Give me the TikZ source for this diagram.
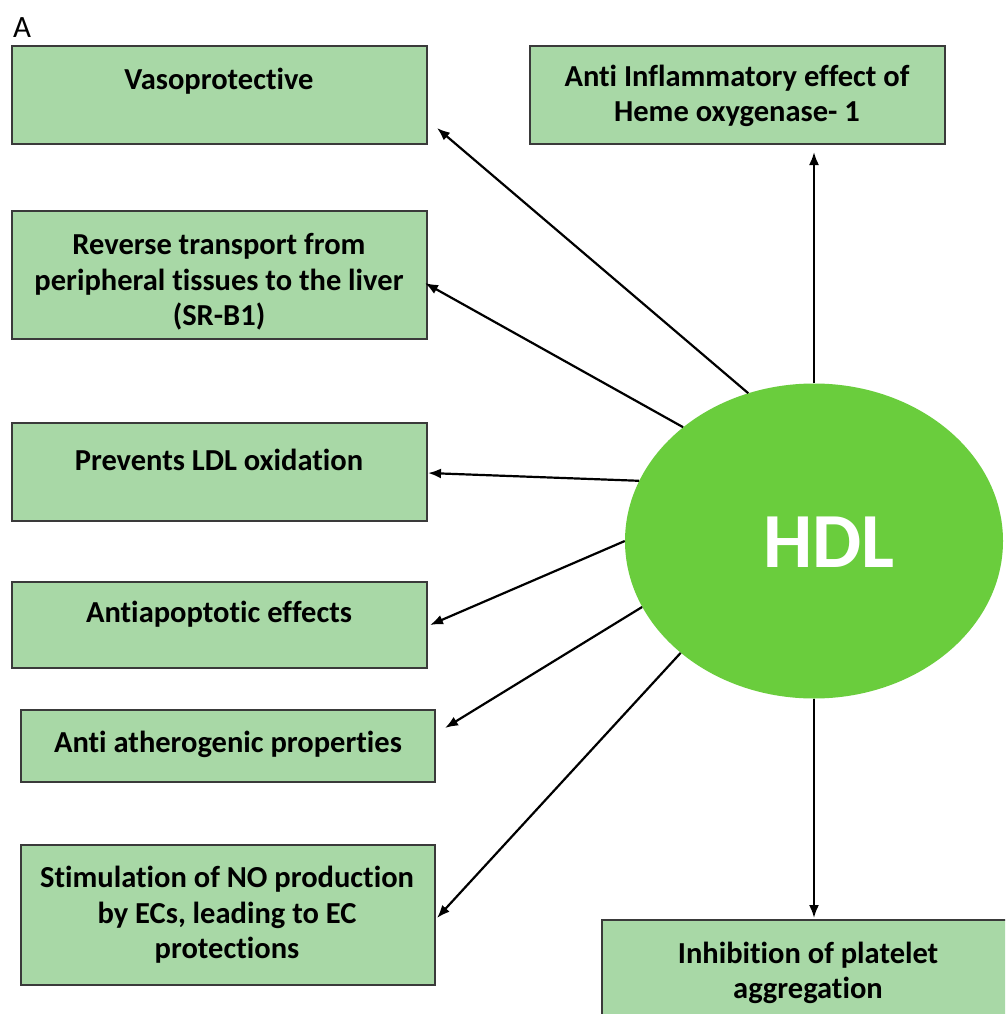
\documentclass[tikz,border=0pt]{standalone}
\usepackage{fontspec}
\setmainfont{Carlito}[Ligatures=NoCommon]
\usetikzlibrary{shapes.geometric,arrows.meta}
\definecolor{boxfill}{HTML}{A8D8A6}
\definecolor{boxline}{HTML}{3A3A3A}
\definecolor{hdlgreen}{HTML}{6ACD3D}
\tikzset{
  effectbox/.style={draw=boxline, line width=1.4pt, fill=boxfill, rectangle, inner sep=0pt},
  effecttext/.style={align=center, font=\fontsize{30.5}{35.5}\selectfont\bfseries, inner sep=0pt},
  link/.style={line width=2.2pt, -{Latex[length=13pt,width=10pt]}},
}
\begin{document}
\begin{tikzpicture}[x=1pt, y=-1pt]
\clip (0,0) rectangle (1005,1014);
\fill[white] (0,0) rectangle (1005,1014);

% panel letter
\node[font=\fontsize{31}{33}\selectfont, inner sep=0pt] (panel) at (22,28) {A};

% effect boxes
\node[effectbox, minimum width=415pt, minimum height=98pt]  (vaso)    at (219.5,95)  {};
\node[effectbox, minimum width=415pt, minimum height=98pt]  (inflam)  at (737.5,95)  {};
\node[effectbox, minimum width=415pt, minimum height=128pt] (rev)     at (219.5,275) {};
\node[effectbox, minimum width=415pt, minimum height=98pt]  (ldl)     at (219.5,472) {};
\node[effectbox, minimum width=415pt, minimum height=86pt]  (apop)    at (219.5,625) {};
\node[effectbox, minimum width=414pt, minimum height=72pt]  (ather)   at (228,746)   {};
\node[effectbox, minimum width=414pt, minimum height=140pt] (nitric)  at (228,915)   {};
\node[effectbox, minimum width=413pt, minimum height=110pt] (platelet) at (808.5,975) {};

% box captions
\node[effecttext] (vasotext)     at (219,81)  {Vasoprotective};
\node[effecttext] (inflamtext)   at (737,96)  {Anti Inflammatory effect of\\Heme oxygenase- 1};
\node[effecttext] (revtext)      at (219,282) {Reverse transport from\\peripheral tissues to the liver\\(SR-B1)};
\node[effecttext] (ldltext)      at (219,460) {Prevents LDL oxidation};
\node[effecttext] (apoptext)     at (219,614) {Antiapoptotic effects};
\node[effecttext] (athertext)    at (228,744) {Anti atherogenic properties};
\node[effecttext] (nitrictext)   at (227,915) {Stimulation of NO production\\by ECs, leading to EC\\protections};
\node[effecttext] (platelettext) at (808,973) {Inhibition of platelet\\aggregation};

% central HDL particle
\node[ellipse, fill=hdlgreen, minimum width=378pt, minimum height=315pt, inner sep=0pt] (hdl) at (814,541) {};
\node[text=white, font=\fontsize{78}{80}\selectfont\bfseries, inner sep=0pt] (hdltext) at (829,542) {HDL};

% arrow tips
\coordinate (tvaso)   at (437,128);
\coordinate (trev)    at (425,283);
\coordinate (tldl)    at (428,473);
\coordinate (tapop)   at (430,625);
\coordinate (tather)  at (445,728);
\coordinate (tnitric) at (437,918);
\coordinate (tinflam) at (814,152);
\coordinate (tplate)  at (814,918);

% arrows from HDL
\draw[link] (hdl.114)   -- (tvaso);
\draw[link] (hdl.139.9) -- (trev);
\draw[link] (hdl.161.4) -- (tldl);
\draw[link] (hdl.180.6) -- (tapop);
\draw[link] (hdl.201.1) -- (tather);
\draw[link] (hdl.220.6) -- (tnitric);
\draw[link] (hdl.north) -- (tinflam);
\draw[link] (hdl.south) -- (tplate);
\end{tikzpicture}
\end{document}
